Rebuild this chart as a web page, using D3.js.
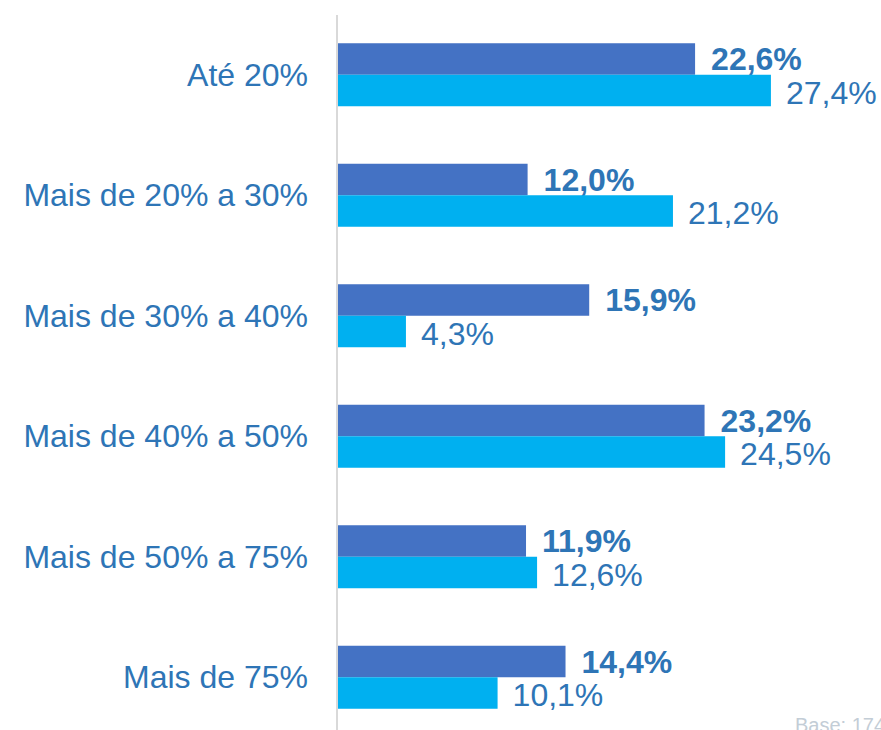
<!DOCTYPE html>
<html><head><meta charset="utf-8">
<script src="https://cdn.jsdelivr.net/npm/d3@7"></script>
<style>body{margin:0;background:#fff}svg{display:block}</style>
</head><body>
<svg id="c" width="881" height="730"></svg>
<script>
const categories = ["Até 20%","Mais de 20% a 30%","Mais de 30% a 40%","Mais de 40% a 50%","Mais de 50% a 75%","Mais de 75%"];
const seriesNames = ["A","B"];
const seriesA = [22.6,12.0,15.9,23.2,11.9,14.4];
const seriesB = [27.4,21.2,4.3,24.5,12.6,10.1];
const colors = ["#4472C4","#00B0F0"];
const baseNote = "Base: 174";

const svg = d3.select("#c");
const x = d3.scaleLinear().domain([0,30]).range([338,812]);
const y = d3.scaleBand().domain(categories).range([14.5,737.5]).padding(0);
const step = y.bandwidth();
const ys = d3.scaleBand().domain(seriesNames).range([step/2-31.5, step/2+31.5]).padding(0);
const fmt = v => v.toFixed(1).replace(".", ",") + "%";
const txt = "#2E75B6";
const ff = "Liberation Sans, Arial, sans-serif";
const fs = 32;

svg.append("line").attr("x1",337).attr("x2",337).attr("y1",15).attr("y2",730)
  .attr("stroke","#D9D9D9").attr("stroke-width",2);

const data = [seriesA, seriesB];
categories.forEach((c,i)=>{
  const g = svg.append("g").attr("transform",`translate(0,${y(c)})`);
  data.forEach((s,j)=>{
    const yy = ys(seriesNames[j]);
    g.append("rect").attr("x",x(0)).attr("y",yy).attr("width",x(s[i])-x(0)).attr("height",ys.bandwidth())
      .attr("fill",colors[j]);
    g.append("text").attr("x",x(s[i])+ (j===0?16:15)).attr("y",yy+ys.bandwidth()/2 + (j===0?11:13))
      .attr("font-family",ff).attr("font-size",fs)
      .attr("font-weight", j===0?"bold":"normal").attr("fill",txt).text(fmt(s[i]));
  });
  g.append("text").attr("x",308).attr("y",step/2+11).attr("text-anchor","end")
    .attr("font-family",ff).attr("font-size",fs)
    .attr("fill",txt).text(c);
});

svg.append("text").attr("x",795).attr("y",732).attr("font-family",ff)
  .attr("font-size",20).attr("fill","#C3CDD6").text(baseNote);
</script>
</body></html>
